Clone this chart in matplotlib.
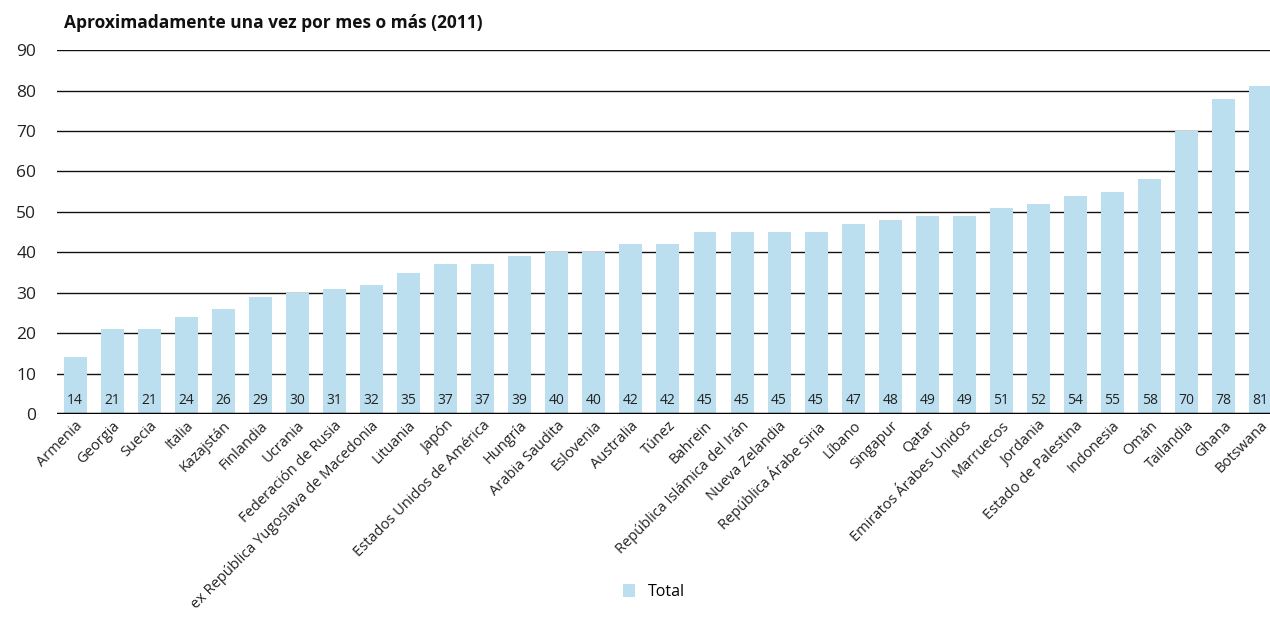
import matplotlib.pyplot as plt
from matplotlib.patches import Patch

plt.rcParams['font.family'] = ['Open Sans', 'DejaVu Sans']

paises = ["Armenia", "Georgia", "Suecia", "Italia", "Kazajstán", "Finlandia", "Ucrania",
          "Federación de Rusia", "ex República Yugoslava de Macedonia", "Lituania", "Japón",
          "Estados Unidos de América", "Hungría", "Arabia Saudita", "Eslovenia", "Australia",
          "Túnez", "Bahrein", "República Islámica del Irán", "Nueva Zelandia",
          "República Árabe Siria", "Líbano", "Singapur", "Qatar", "Emiratos Árabes Unidos",
          "Marruecos", "Jordania", "Estado de Palestina", "Indonesia", "Omán", "Tailandia",
          "Ghana", "Botswana"]
total = [14, 21, 21, 24, 26, 29, 30, 31, 32, 35, 37, 37, 39, 40, 40, 42, 42, 45, 45, 45,
         45, 47, 48, 49, 49, 51, 52, 54, 55, 58, 70, 78, 81]
yticks = [0, 10, 20, 30, 40, 50, 60, 70, 80, 90]

bar_color = "#bcdff0"

fig = plt.figure(figsize=(12.7, 6.18), dpi=100)
ax = fig.add_axes([0.0449, 0.330, 0.9551, 0.589])

x = list(range(len(paises)))
ax.bar(x, total, width=0.62, color=bar_color, zorder=2)

for xi, v in zip(x, total):
    ax.text(xi, 1.5, str(v), ha="center", va="bottom", fontsize=10,
            color="#222222", zorder=3)

ax.set_ylim(0, 90)
ax.set_xlim(-0.49, 32.25)
ax.set_yticks(yticks)
ax.set_yticklabels([str(t) for t in yticks], fontsize=12.5, color="#222222")
ax.yaxis.grid(True, color="#111111", linewidth=1.0, zorder=1)
ax.set_axisbelow(True)
ax.axhline(0, color="black", linewidth=2.5, zorder=4)
ax.tick_params(axis="y", length=0, pad=15)
ax.tick_params(axis="x", length=0, pad=3)

ax.set_xticks(x)
ax.set_xticklabels(paises, rotation=45, ha="right", rotation_mode="anchor",
                   fontsize=10.5, color="#222222")

for s in ax.spines.values():
    s.set_visible(False)

fig.text(0.0504, 0.963, "Aproximadamente una vez por mes o más (2011)",
         fontsize=12.5, fontweight="bold", ha="left", va="center", color="#111111")

fig.legend(handles=[Patch(facecolor=bar_color, label="Total")],
           loc="center", bbox_to_anchor=(0.515, 0.042), frameon=False,
           fontsize=11.5, handlelength=0.8, handleheight=0.8, handletextpad=0.8)

fig.savefig("out.png", dpi=100)
